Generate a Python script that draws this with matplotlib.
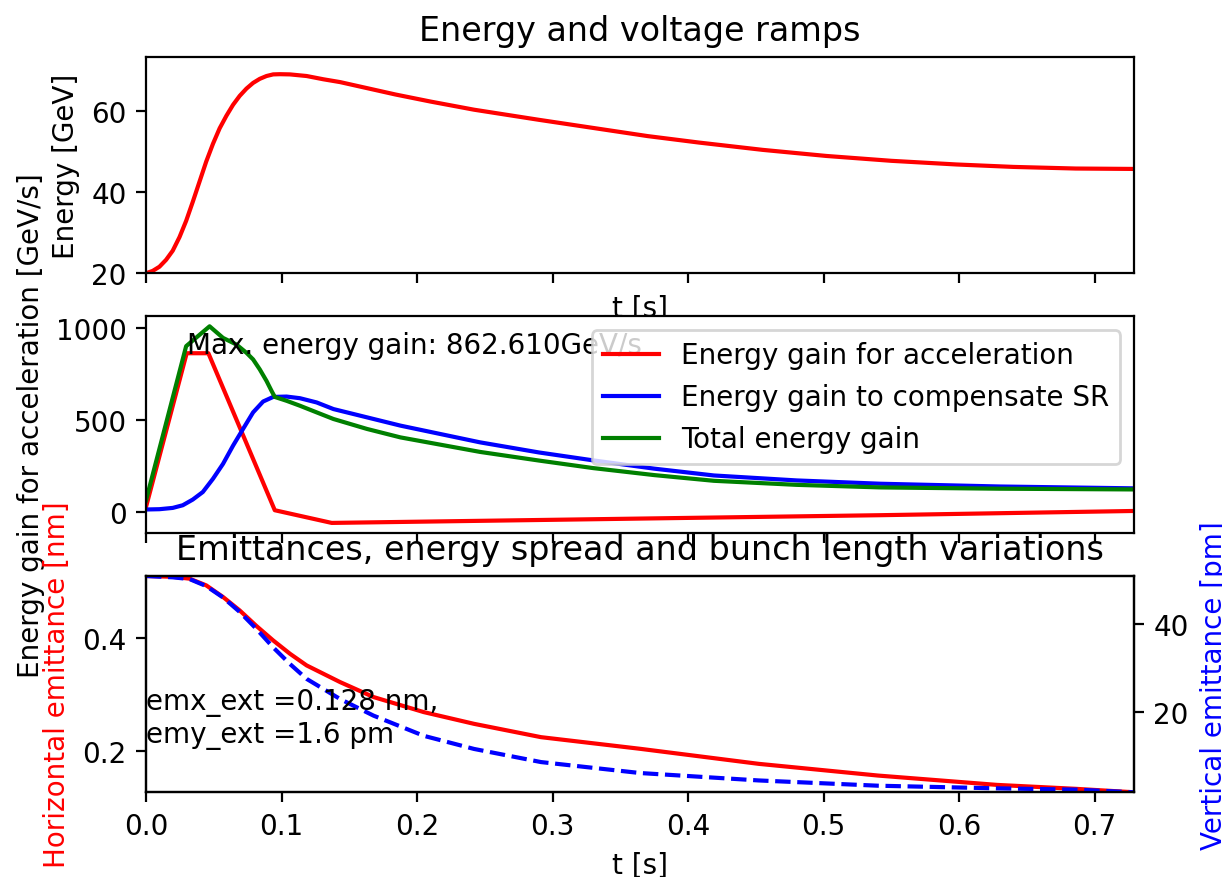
import matplotlib
matplotlib.use('Agg')
import matplotlib.pyplot as plt

# Energy ramp [GeV]
t_energy = [0.0, 0.0049, 0.0099, 0.0148, 0.0197, 0.0247, 0.0296, 0.0345, 0.0395,
            0.0444, 0.0494, 0.0543, 0.0593, 0.0642, 0.0691, 0.0741, 0.079,
            0.0839, 0.0889, 0.0938, 0.0988, 0.1062, 0.1185, 0.1308, 0.1432,
            0.184, 0.21, 0.242, 0.29, 0.336, 0.37, 0.408, 0.455, 0.502, 0.55,
            0.598, 0.64, 0.686, 0.729]
energy = [20.0, 20.57, 21.6, 23.3, 25.55, 28.9, 32.9, 37.6, 42.6,
          47.5, 51.9, 55.7, 58.8, 61.5, 63.7, 65.5, 66.9,
          67.9, 68.6, 69.0, 69.05, 69.0, 68.6, 67.8, 67.1,
          64.05, 62.3, 60.3, 57.8, 55.5, 53.8, 52.2, 50.4, 48.9, 47.7,
          46.8, 46.2, 45.8, 45.7]

# Energy gain curves [GeV/s]
t_acc = [0.0, 0.030, 0.046, 0.095, 0.137, 0.542, 0.729]
gain_acc = [27, 862.61, 862.61, 9, -60, -18, 5]

t_sr = [0.0, 0.0099, 0.0197, 0.0271, 0.0345, 0.0419, 0.0494, 0.0568, 0.0642,
        0.0716, 0.079, 0.0864, 0.0938, 0.1037, 0.1136, 0.1259, 0.1383, 0.163,
        0.1877, 0.2465, 0.29, 0.33, 0.375, 0.419, 0.48, 0.542, 0.63, 0.729]
gain_sr = [13, 14.6, 21.6, 36, 67, 108, 180, 261, 360,
           451, 541, 600, 625, 627, 618, 595, 559, 514,
           469, 378, 323, 280, 235, 198, 171, 153, 138, 128]

t_tot = [0.0, 0.0296, 0.0469, 0.0568, 0.0667, 0.0741, 0.079, 0.0839, 0.0889,
         0.0926, 0.095, 0.1037, 0.1136, 0.1259, 0.1383, 0.163, 0.1877, 0.2465,
         0.29, 0.33, 0.375, 0.419, 0.48, 0.542, 0.63, 0.729]
gain_tot = [63, 901, 1009, 946, 910, 865, 829, 775, 712,
            658, 625, 604, 577, 541, 505, 451, 405, 326,
            279, 238, 200, 169, 147, 133, 126, 122]

max_gain = 862.610
t_max_gain = 0.030

# Emittances
t_emit = [0.0, 0.0197, 0.0321, 0.0444, 0.0568, 0.0691, 0.0815, 0.0938, 0.1062,
          0.1185, 0.1432, 0.1679, 0.2049, 0.242, 0.2914, 0.3644, 0.4522, 0.540,
          0.6279, 0.6865, 0.729]
emx = [0.5094, 0.508, 0.5047, 0.4929, 0.4724, 0.4487, 0.4212, 0.3958, 0.3723,
       0.3517, 0.3223, 0.2959, 0.2694, 0.2487, 0.2252, 0.2047, 0.1781, 0.1575,
       0.141, 0.134, 0.128]
emy = [51.0, 50.7, 50.3, 48.7, 46.1, 42.8, 38.9, 34.7, 30.9,
       27.5, 22.9, 19.1, 14.5, 11.5, 8.5, 6.0, 4.3, 3.1,
       2.5, 2.2, 1.6]
emx_ext = 0.128
emy_ext = 1.6

fig, (ax1, ax2, ax3) = plt.subplots(3, 1, sharex=True, figsize=(6.11, 4.39), dpi=200)
fig.subplots_adjust(left=0.1195, right=0.928, top=0.934, bottom=0.0965, hspace=0.2)

# Energy
ax1.plot(t_energy, energy, 'r')
ax1.set_title('Energy and voltage ramps')
ax1.set_ylabel('Energy [GeV]')
ax1.set_xlabel('t [s]')
ax1.set_ylim(20, 73.3)
ax1.set_xlim(t_energy[0], t_energy[-1])

# Energy gain
ax2.plot(t_acc, gain_acc, 'r', label='Energy gain for acceleration')
ax2.plot(t_sr, gain_sr, 'b', label='Energy gain to compensate SR')
ax2.plot(t_tot, gain_tot, 'g', label='Total energy gain')
ax2.text(t_max_gain, max_gain, 'Max. energy gain: %.3fGeV/s' % max_gain)
ax2.set_ylabel('Energy gain for acceleration [GeV/s]')
ax2.legend(loc='upper right')

# Emittances
ax3.plot(t_emit, emx, 'r')
ax3.set_title('Emittances, energy spread and bunch length variations')
ax3.set_ylabel('Horizontal emittance [nm]', color='r')
ax3.set_xlabel('t [s]')
ax3.set_ylim(min(emx), max(emx))

ax3b = ax3.twinx()
ax3b.plot(t_emit, emy, 'b--')
ax3b.set_ylabel('Vertical emittance [pm]', color='b')
ax3b.set_ylim(min(emy), max(emy))
ax3b.text(0, 13.0, 'emx_ext =%.3f nm,\nemy_ext =%.1f pm' % (emx_ext, emy_ext))

fig.savefig('out.png')
